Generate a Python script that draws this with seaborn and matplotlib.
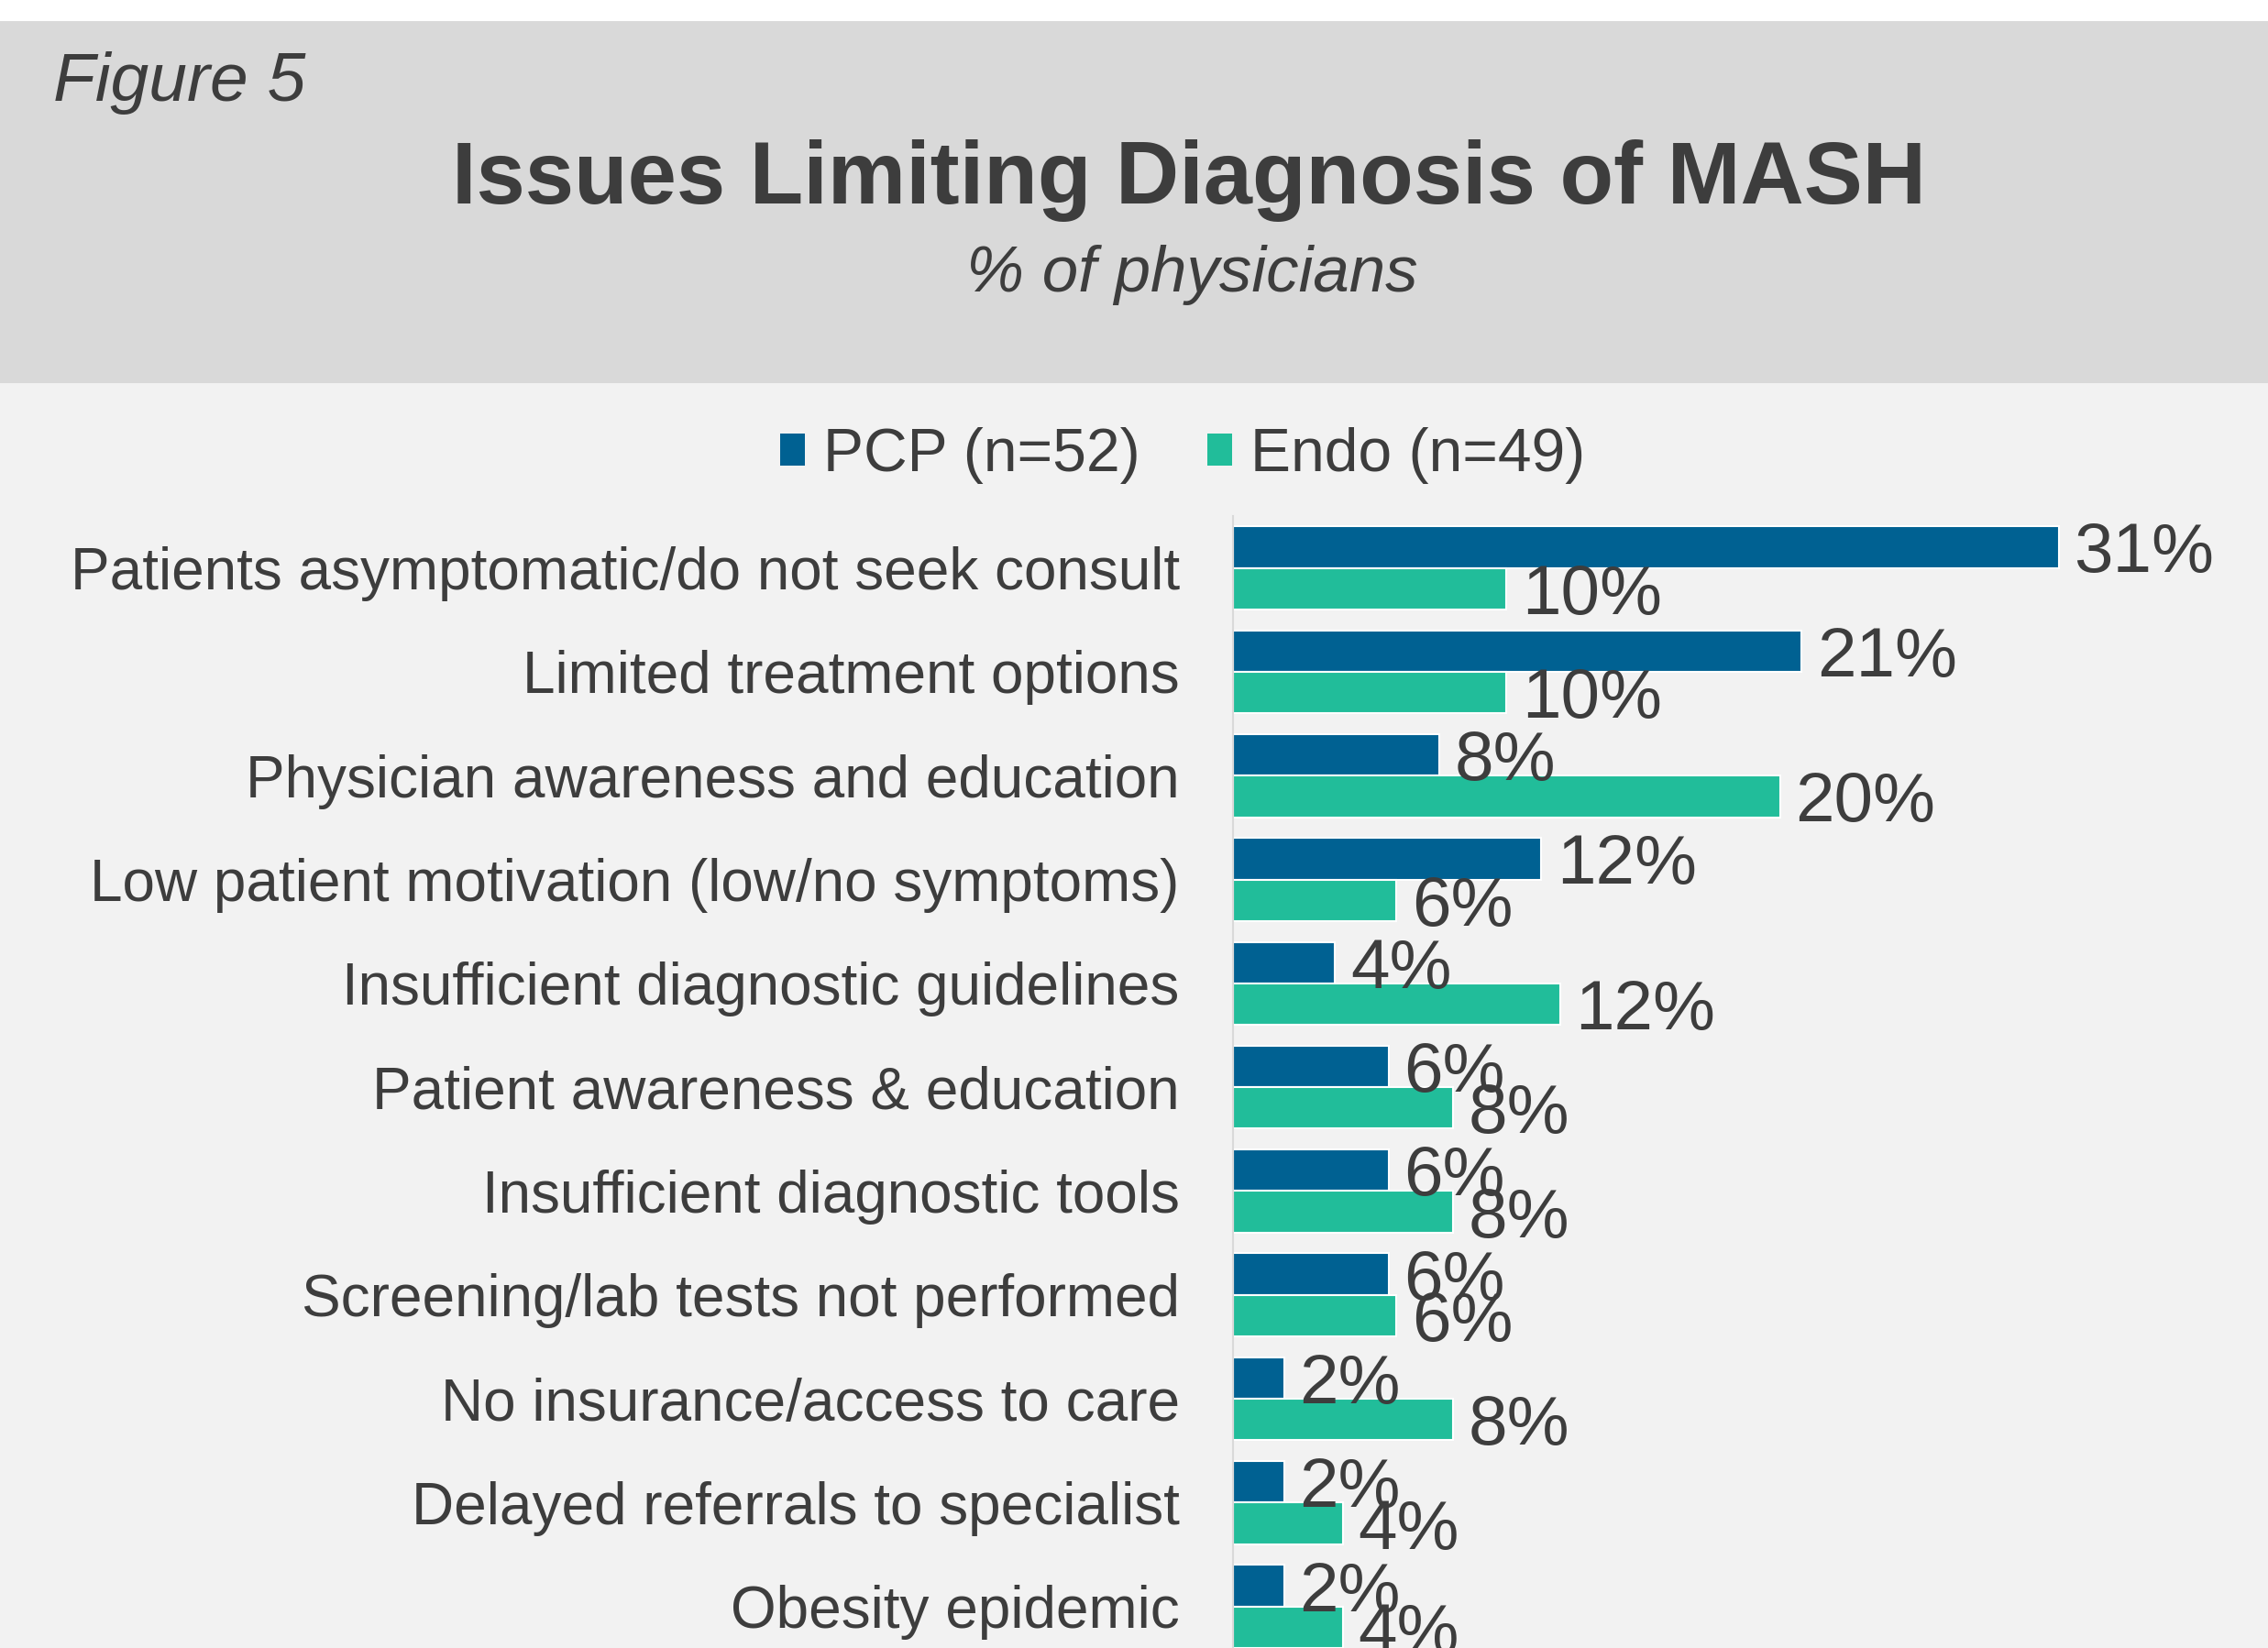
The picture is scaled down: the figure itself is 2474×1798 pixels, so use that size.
import pandas as pd
import matplotlib.pyplot as plt
import seaborn as sns
from matplotlib.patches import Rectangle, Patch

# ======================
# Data
# ======================
categories = [
    "Patients asymptomatic/do not seek consult",
    "Limited treatment options",
    "Physician awareness and education",
    "Low patient motivation (low/no symptoms)",
    "Insufficient diagnostic guidelines",
    "Patient awareness & education",
    "Insufficient diagnostic tools",
    "Screening/lab tests not performed",
    "No insurance/access to care",
    "Delayed referrals to specialist",
    "Obesity epidemic",
]
pcp_values = [30.8, 21.2, 7.7, 11.5, 3.8, 5.8, 5.8, 5.8, 1.9, 1.9, 1.9]
endo_values = [10.2, 10.2, 20.4, 6.1, 12.2, 8.2, 8.2, 6.1, 8.2, 4.1, 4.1]
series_names = ["PCP (n=52)", "Endo (n=49)"]

title = "Issues Limiting Diagnosis of MASH"
subtitle = "% of physicians"
fig_label = "Figure 5"

# ======================
# Style
# ======================
sns.set_style("white")
plt.rcParams["font.family"] = ["Liberation Sans", "DejaVu Sans"]

blue = "#006192"
teal = "#21bd9a"
text_color = "#3d3d3d"
header_bg = "#d9d9d9"
body_bg = "#f2f2f2"

df = pd.DataFrame({
    "category": categories * 2,
    "value": pcp_values + endo_values,
    "group": [series_names[0]] * len(categories) + [series_names[1]] * len(categories),
})

W, H = 2474, 1798
fig = plt.figure(figsize=(W / 100, H / 100), dpi=100, facecolor=body_bg)

# header band
fig.patches.append(Rectangle((0, 1 - 23 / H), 1, 23 / H, transform=fig.transFigure,
                             facecolor="white", edgecolor="none", zorder=0))
fig.patches.append(Rectangle((0, 1 - 418 / H), 1, (418 - 23) / H, transform=fig.transFigure,
                             facecolor=header_bg, edgecolor="none", zorder=0))

fig.text(58 / W, 1 - 110 / H, fig_label, fontsize=54, style="italic",
         color=text_color, ha="left", va="baseline")
fig.text(1297 / W, 1 - 222 / H, title, fontsize=69, fontweight="bold",
         color=text_color, ha="center", va="baseline")
fig.text(1300 / W, 1 - 318 / H, subtitle, fontsize=51, style="italic",
         color=text_color, ha="center", va="baseline")

# ======================
# Bars
# ======================
ax = fig.add_axes([1345 / W, 0, (W - 1345) / W, (H - 563) / H])
ax.set_facecolor(body_bg)
sns.barplot(data=df, x="value", y="category", hue="group", orient="h",
            palette=[blue, teal], saturation=1, width=0.8, edgecolor="white",
            linewidth=1.5, legend=False, ax=ax)

for cont in ax.containers:
    texts = ax.bar_label(cont, labels=[f"{b.get_width():.0f}%" for b in cont],
                         padding=12, fontsize=55, color=text_color)
    for t in texts:
        t.set_va("center_baseline")

ax.set_xlim(0, (W - 1345) / 29.25)
ax.set_ylim(10.4, -0.5)
ax.set_xlabel("")
ax.set_ylabel("")
ax.set_xticks([])
ax.tick_params(axis="y", length=0, pad=42, labelsize=46, labelcolor=text_color)
for side in ["top", "right", "bottom"]:
    ax.spines[side].set_visible(False)
ax.spines["left"].set_color("#d9d9d9")
ax.spines["left"].set_linewidth(1.5)

# legend
handles = [Patch(facecolor=blue, edgecolor="none"), Patch(facecolor=teal, edgecolor="none")]
fig.legend(handles, series_names, loc="center", bbox_to_anchor=(1290 / W, 1 - 497 / H),
           ncol=2, frameon=False, fontsize=47.5, handlelength=0.42, handleheight=0.42,
           handletextpad=0.3, columnspacing=1.1, labelcolor=text_color)

fig.savefig("out.png", dpi=100, facecolor=body_bg)
